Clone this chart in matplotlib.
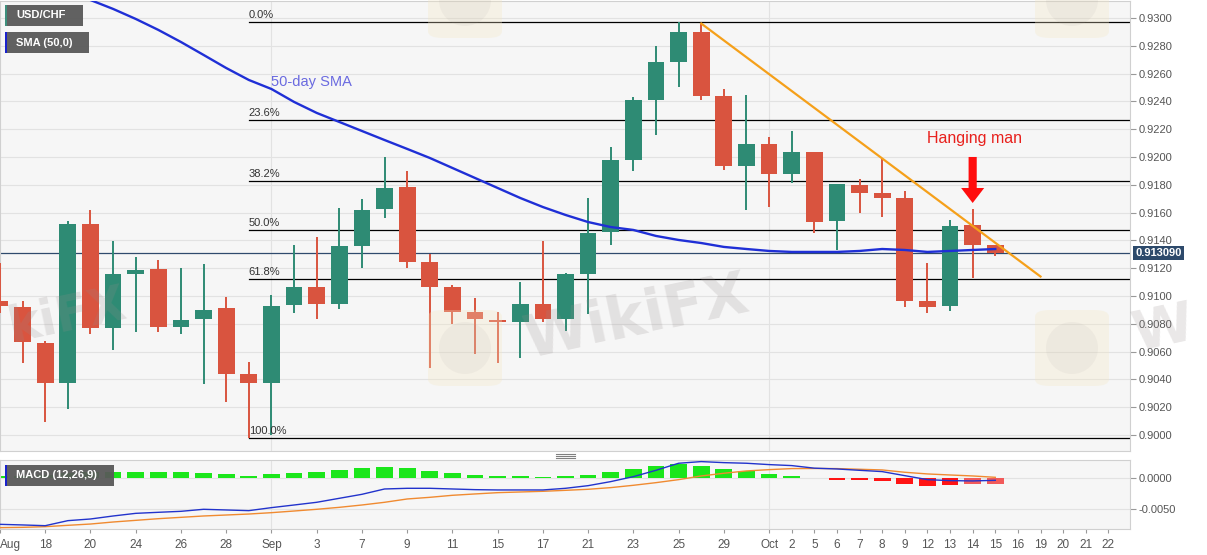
import matplotlib
matplotlib.use("Agg")
import matplotlib.pyplot as plt
import matplotlib.transforms as mtransforms
from matplotlib.patches import Rectangle, FancyArrow, FancyBboxPatch, Ellipse
from matplotlib.lines import Line2D

plt.rcParams['font.family'] = ['Liberation Sans', 'DejaVu Sans']

# USD/CHF daily candles, Aug 14 .. Oct 15
opens = [0.90964, 0.90921, 0.90662, 0.90374, 0.91518, 0.90770, 0.91158, 0.91194, 0.90777, 0.90835,
         0.90914, 0.90439, 0.90374, 0.90935, 0.91065, 0.90943, 0.91360, 0.91626, 0.91784, 0.91245,
         0.91065, 0.90885, 0.90827, 0.90813, 0.90943, 0.90835, 0.91158, 0.91460, 0.91978, 0.92410,
         0.92683, 0.92899, 0.92439, 0.91935, 0.92094, 0.91878, 0.92036, 0.91540, 0.91799, 0.91741,
         0.91705, 0.90964, 0.90928, 0.91511, 0.91367]
highs = [0.91238, 0.90964, 0.90676, 0.91540, 0.91619, 0.91396, 0.91281, 0.91259, 0.91202, 0.91230,
         0.90993, 0.90525, 0.91007, 0.91367, 0.91425, 0.91633, 0.91698, 0.92000, 0.91899, 0.91302,
         0.91079, 0.90986, 0.90885, 0.91101, 0.91396, 0.91166, 0.91705, 0.92072, 0.92432, 0.92799,
         0.92971, 0.92957, 0.92489, 0.92446, 0.92144, 0.92187, 0.92036, 0.91806, 0.91842, 0.91986,
         0.91755, 0.91238, 0.91547, 0.91626, 0.91367]
lows = [0.90878, 0.90518, 0.90094, 0.90187, 0.90727, 0.90612, 0.90741, 0.90741, 0.90727, 0.90367,
        0.90238, 0.89980, 0.90000, 0.90878, 0.90835, 0.90907, 0.91202, 0.91561, 0.91202, 0.90482,
        0.90799, 0.90583, 0.90518, 0.90554, 0.90813, 0.90748, 0.90871, 0.91367, 0.91899, 0.92158,
        0.92504, 0.92410, 0.91907, 0.91619, 0.91640, 0.91813, 0.91453, 0.91331, 0.91597, 0.91568,
        0.90921, 0.90878, 0.90892, 0.91130, 0.91288]
closes = [0.90930, 0.90669, 0.90374, 0.91518, 0.90770, 0.91158, 0.91187, 0.90777, 0.90827, 0.90899,
          0.90439, 0.90374, 0.90928, 0.91065, 0.90943, 0.91360, 0.91619, 0.91777, 0.91245, 0.91065,
          0.90885, 0.90835, 0.90813, 0.90943, 0.90835, 0.91158, 0.91453, 0.91978, 0.92410, 0.92683,
          0.92899, 0.92439, 0.91935, 0.92094, 0.91878, 0.92036, 0.91532, 0.91806, 0.91741, 0.91705,
          0.90964, 0.90921, 0.91504, 0.91367, 0.91309]
sma50 = [0.9338, 0.9332, 0.9326, 0.9319, 0.93129, 0.93065, 0.92993, 0.92914, 0.92827, 0.92734,
         0.92640, 0.92554, 0.92489, 0.92396, 0.92317, 0.92252, 0.92187, 0.92122, 0.92058, 0.91993,
         0.91921, 0.91849, 0.91777, 0.91705, 0.91640, 0.91583, 0.91532, 0.91496, 0.91475, 0.91432,
         0.91403, 0.91381, 0.91353, 0.91338, 0.91324, 0.91317, 0.91317, 0.91317, 0.91324, 0.91338,
         0.91331, 0.91317, 0.91324, 0.91331, 0.91338]

macd_line = [-0.00750, -0.00760, -0.00772, -0.00690, -0.00663, -0.00614, -0.00571, -0.00554, -0.00538, -0.00505,
             -0.00516, -0.00527, -0.00478, -0.00435, -0.00391, -0.00326, -0.00261, -0.00174, -0.00163, -0.00163,
             -0.00174, -0.00185, -0.00190, -0.00190, -0.00190, -0.00163, -0.00120, -0.00054, 0.00027, 0.00130,
             0.00245, 0.00272, 0.00255, 0.00245, 0.00223, 0.00207, 0.00165, 0.00152, 0.00130, 0.00109,
             0.00043, -0.00022, -0.00038, -0.00043, -0.00033]
macd_signal = [-0.00804, -0.00799, -0.00788, -0.00766, -0.00745, -0.00712, -0.00685, -0.00658, -0.00636, -0.00614,
               -0.00598, -0.00582, -0.00560, -0.00533, -0.00505, -0.00473, -0.00435, -0.00391, -0.00337, -0.00310,
               -0.00277, -0.00255, -0.00234, -0.00223, -0.00212, -0.00196, -0.00179, -0.00152, -0.00114, -0.00071,
               -0.00022, 0.00038, 0.00082, 0.00120, 0.00141, 0.00158, 0.00160, 0.00158, 0.00147, 0.00136,
               0.00098, 0.00071, 0.00054, 0.00038, 0.00016]
macd_hist = [0.00040, 0.00045, 0.00060, 0.00080, 0.00095, 0.00098, 0.00100, 0.00100, 0.00100, 0.00092,
             0.00065, 0.00043, 0.00065, 0.00092, 0.00100, 0.00136, 0.00163, 0.00185, 0.00163, 0.00125,
             0.00087, 0.00054, 0.00038, 0.00033, 0.00022, 0.00038, 0.00060, 0.00109, 0.00158, 0.00200,
             0.00234, 0.00200, 0.00152, 0.00114, 0.00070, 0.00043, 0.00005, -0.00020, -0.00030, -0.00043,
             -0.00100, -0.00130, -0.00110, -0.00100, -0.00090]

tick_pos = [0, 2, 4, 6, 8, 10, 12, 14, 16, 18, 20, 22, 24, 26, 28, 30, 32, 34, 35, 36, 37, 38,
            39, 40, 41, 42, 43, 44, 45, 46, 47, 48, 49]
tick_labels = ['Aug', '18', '20', '24', '26', '28', 'Sep', '3', '7', '9', '11', '15', '17', '21', '23',
               '25', '29', 'Oct', '2', '5', '6', '7', '8', '9', '12', '13', '14', '15', '16', '19',
               '20', '21', '22']
month_starts = [12, 34]

fib_high = 0.9297
fib_low = 0.8998
fib_ratios = [0.0, 0.236, 0.382, 0.5, 0.618, 1.0]
fib_start = 11

trend_x = [31, 46]
trend_y = [0.9296, 0.9114]

last_price = 0.913090

W, H = 1207, 555
GREEN = '#2e8b74'
RED = '#d9543f'
GRID = '#e2e2e2'
TXT = '#555555'


def fx(px):
    return px / W


def fy(py):
    return 1 - py / H


fig = plt.figure(figsize=(W / 100, H / 100), dpi=100)
fig.patch.set_facecolor('white')

xmax = 1130 / 22.62

# ---- price panel
ax = fig.add_axes([0, fy(451), fx(1130), (451 - 1) / H])
ax.set_facecolor('#f6f6f6')
ax.set_xlim(0, xmax)
ax.set_ylim(0.89885, 0.93122)
ax.yaxis.tick_right()
yt = [0.9000 + 0.002 * k for k in range(16)]
ax.set_yticks(yt)
ax.set_yticklabels(['%.4f' % v for v in yt])
ax.tick_params(axis='y', length=4, pad=2, color='#999999', labelcolor=TXT, labelsize=8)
ax.set_xticks([])
for v in yt:
    ax.axhline(v, color=GRID, lw=0.8, zorder=0)
for m in month_starts:
    ax.axvline(m, color=GRID, lw=0.8, zorder=0)
for s in ax.spines.values():
    s.set_color('#d0d0d0')
    s.set_linewidth(0.8)

for i in range(len(opens)):
    o, h, l, c = opens[i], highs[i], lows[i], closes[i]
    col = GREEN if c >= o else RED
    ax.vlines(i, l, h, color=col, lw=1.4, zorder=3)
    ax.bar(i, max(abs(c - o), 0.00012), bottom=min(o, c), width=0.74, color=col, zorder=4)

ax.plot(range(len(sma50)), sma50, color='#1f2fd6', lw=1.7, zorder=5)
ax.plot(trend_x, trend_y, color='#f5a01a', lw=1.6, zorder=6)

for r in fib_ratios:
    lvl = fib_high - r * (fib_high - fib_low)
    ax.plot([fib_start, xmax], [lvl, lvl], color='black', lw=0.9, zorder=2)
    ax.annotate('%.1f%%' % (r * 100), (fib_start, lvl), xytext=(0, 1.5),
                textcoords='offset points', fontsize=8, color='#333333', va='bottom', zorder=7)

ax.axhline(last_price, color='#2f4a6d', lw=0.9, zorder=2)
bt = mtransforms.blended_transform_factory(ax.transAxes, ax.transData)
ax.text(1.0045, last_price, '%.6f' % last_price, transform=bt, ha='left', va='center',
        fontsize=8, color='white', weight='bold', clip_on=False,
        bbox=dict(boxstyle='square,pad=0.22', fc='#2d4a6b', ec='none'))

ax.text(12.0, 0.9254, '50-day SMA', color='#6a6ae0', fontsize=10.5, va='center', zorder=7)
ax.text(43.1, 0.9213, 'Hanging man', color='#e8201c', fontsize=11.5, ha='center', va='center', zorder=7)
ax.add_patch(FancyArrow(43.0, 0.9200, 0, -0.00331, width=0.36, head_width=1.02,
                        head_length=0.00108, length_includes_head=True, color='#ff0d0d', lw=0, zorder=8))

# ---- MACD panel
ax2 = fig.add_axes([0, fy(529), fx(1130), (529 - 460) / H])
ax2.set_facecolor('#f6f6f6')
ax2.set_xlim(0, xmax)
ax2.set_ylim(-0.00826, 0.00298)
ax2.yaxis.tick_right()
ax2.set_yticks([0.0, -0.005])
ax2.set_yticklabels(['0.0000', '-0.0050'])
ax2.tick_params(axis='y', length=4, pad=2, color='#999999', labelcolor=TXT, labelsize=8)
ax2.set_xticks(tick_pos)
ax2.set_xticklabels(tick_labels)
ax2.get_xticklabels()[0].set_ha('left')
ax2.tick_params(axis='x', length=3, pad=4, color='#999999', labelcolor=TXT, labelsize=8.5)
for v in [0.0, -0.005]:
    ax2.axhline(v, color=GRID, lw=0.8, zorder=0)
for m in month_starts:
    ax2.axvline(m, color=GRID, lw=0.8, zorder=0)
for s in ax2.spines.values():
    s.set_color('#d0d0d0')
    s.set_linewidth(0.8)

n = len(macd_hist)
bar_cols = []
for i, v in enumerate(macd_hist):
    if v >= 0:
        bar_cols.append('#1be61b' if v > 0.0001 else '#a8eca8')
    else:
        bar_cols.append('#f25a5a' if i >= n - 2 else '#ff1414')
ax2.bar(range(n), macd_hist, width=0.74, color=bar_cols, zorder=2)
ax2.plot(range(n), macd_signal, color='#f08a30', lw=1.0, zorder=3)
ax2.plot(range(n), macd_line, color='#2233cc', lw=1.0, zorder=4)

# ---- labels in the top-left corners
def tag(x0, y0, x1, y1, edge, label):
    fig.add_artist(Rectangle((fx(x0), fy(y1)), fx(x1 - x0), (y1 - y0) / H,
                             transform=fig.transFigure, fc='#595959', ec='none', alpha=0.95, zorder=5))
    fig.add_artist(Rectangle((fx(x0), fy(y1)), fx(2), (y1 - y0) / H,
                             transform=fig.transFigure, fc=edge, ec='none', zorder=6))
    fig.text(fx(16), fy((y0 + y1) / 2), label, color='white', fontsize=8, weight='bold',
             va='center', ha='left', zorder=7)


tag(5, 5, 83, 26, '#3d8f7c', 'USD/CHF')
tag(5, 32, 89, 53, '#1a22cc', 'SMA (50,0)')
tag(5, 465, 114, 486, '#1a22cc', 'MACD (12,26,9)')

# panel resize handle
for yy in (454, 456, 458):
    fig.add_artist(Line2D([fx(556), fx(575)], [fy(yy), fy(yy)], color='#808080', lw=0.8,
                          transform=fig.transFigure))

# ---- watermark
for cx, cy in [(465, 0), (465, 348), (1072, 0), (1072, 348)]:
    fig.add_artist(FancyBboxPatch((fx(cx - 37), fy(cy + 38)), fx(74), 76 / H,
                                  boxstyle='round,pad=0,rounding_size=0.012',
                                  transform=fig.transFigure, fc='#f5e8c4', ec='none', alpha=0.3, zorder=8))
    fig.add_artist(Ellipse((fx(cx), fy(cy)), fx(52), 52 / H, transform=fig.transFigure,
                           fc='#9a9090', ec='none', alpha=0.08, zorder=8))
wm = dict(weight='bold', family='DejaVu Sans', color='#958c8c', alpha=0.2,
          rotation=12, va='center', zorder=9)
fig.text(fx(636), fy(318), 'WikiFX', ha='center', fontsize=42, **wm)
fig.text(fx(4), fy(316), 'kiFX', ha='left', fontsize=35, **wm)
fig.text(fx(1128), fy(330), 'W', ha='left', fontsize=40, **wm)

fig.savefig('out.png', dpi=100, facecolor='white')
